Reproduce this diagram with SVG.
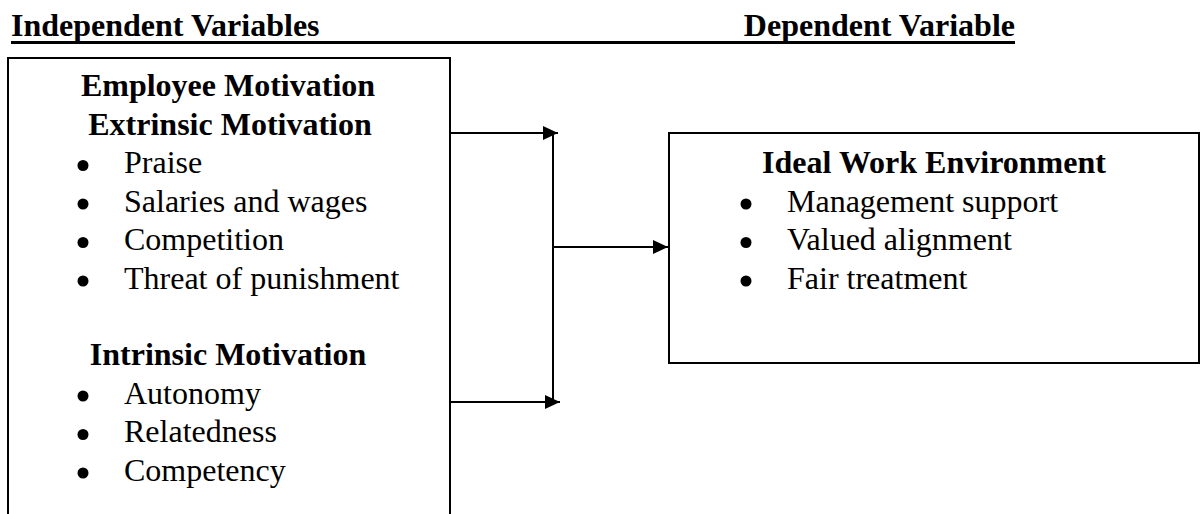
<svg xmlns="http://www.w3.org/2000/svg" width="1201" height="514" viewBox="0 0 1201 514">
<style>
text { font-family: "Liberation Serif", "Times New Roman", serif; font-size: 32px; fill: #000; }
.b { font-weight: bold; }
.c { text-anchor: middle; }
.dot { fill: #000; }
.box { fill: #fff; stroke: #000; stroke-width: 2; }
.con { fill: none; stroke: #000; stroke-width: 2; }
</style>
<defs>
<marker id="ah" markerUnits="userSpaceOnUse" markerWidth="16" markerHeight="16" refX="15" refY="7" orient="auto">
<path d="M0,0 L15,7 L0,14 z" fill="#000"/>
</marker>
</defs>
<rect width="1201" height="514" fill="#fff"/>
<g id="headers">
<text class="b" x="11" y="36">Independent Variables</text>
<text class="b" x="1015" y="36" text-anchor="end">Dependent Variable</text>
<line x1="11" y1="42.5" x2="1015" y2="42.5" stroke="#000" stroke-width="3"/>
</g>
<g id="independent">
<rect class="box" x="8" y="58" width="442" height="480"/>
<text class="b c" x="228" y="96">Employee Motivation</text>
<text class="b c" x="230" y="134.5">Extrinsic Motivation</text>
<circle class="dot" cx="83" cy="165.5" r="5.5"/><text x="124" y="173">Praise</text>
<circle class="dot" cx="83" cy="204" r="5.5"/><text x="124" y="211.5">Salaries and wages</text>
<circle class="dot" cx="83" cy="242.5" r="5.5"/><text x="124" y="250">Competition</text>
<circle class="dot" cx="83" cy="281" r="5.5"/><text x="124" y="288.5">Threat of punishment</text>
<text class="b c" x="228" y="365">Intrinsic Motivation</text>
<circle class="dot" cx="83" cy="396" r="5.5"/><text x="124" y="403.5">Autonomy</text>
<circle class="dot" cx="83" cy="434.5" r="5.5"/><text x="124" y="442">Relatedness</text>
<circle class="dot" cx="83" cy="473" r="5.5"/><text x="124" y="480.5">Competency</text>
</g>
<g id="dependent">
<rect class="box" x="669" y="133" width="530" height="230"/>
<text class="b c" x="934" y="173">Ideal Work Environment</text>
<circle class="dot" cx="746" cy="204" r="5.5"/><text x="787" y="211.5">Management support</text>
<circle class="dot" cx="746" cy="242.5" r="5.5"/><text x="787" y="250">Valued alignment</text>
<circle class="dot" cx="746" cy="281" r="5.5"/><text x="787" y="288.5">Fair treatment</text>
</g>
<g id="connectors">
<line class="con" x1="450" y1="133" x2="558" y2="133" marker-end="url(#ah)"/>
<line class="con" x1="450" y1="402" x2="560" y2="402" marker-end="url(#ah)"/>
<line class="con" x1="553" y1="133" x2="553" y2="402"/>
<line class="con" x1="553" y1="247" x2="668" y2="247" marker-end="url(#ah)"/>
</g>
</svg>
